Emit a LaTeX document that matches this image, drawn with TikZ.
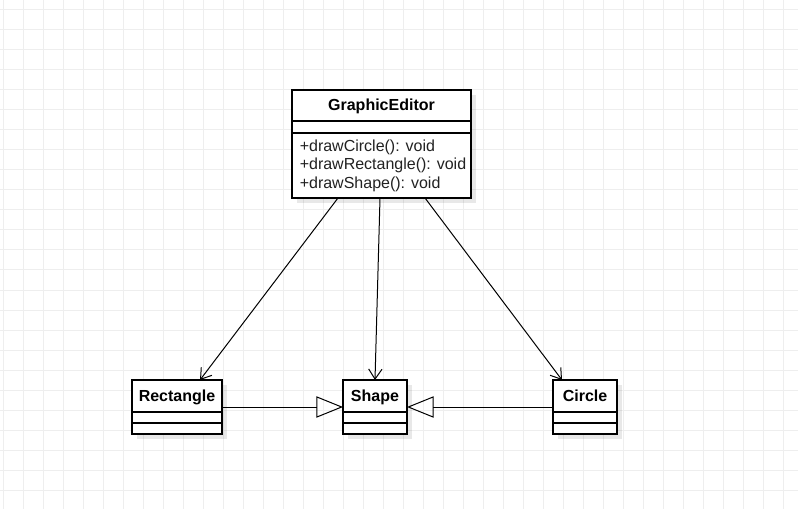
\documentclass[tikz,border=0pt]{standalone}
\usepackage{fontspec}
\setmainfont{Liberation Sans}
\usepackage{tikz}
\usetikzlibrary{arrows.meta,calc,fit,shadows}
\definecolor{gridgray}{HTML}{EEEEEE}
\definecolor{ink}{HTML}{222222}
\newcommand\umlfont{\fontsize{12pt}{13.9pt}\selectfont}

\begin{document}
\begin{tikzpicture}[x=0.75pt,y=-0.75pt,font=\umlfont,
    gridline/.style={gridgray,line width=0.75pt},
    classbox/.style={draw=black,line width=1pt,fill=white,inner sep=0pt,outer sep=0pt,
      drop shadow={shadow xshift=3.5pt,shadow yshift=-3.5pt,fill=black,opacity=0.09}},
    sepline/.style={black,line width=1pt},
    classname/.style={font=\umlfont\bfseries,anchor=base,inner sep=0pt},
    uses/.style={-{Straight Barb[length=7.5pt,width=10pt]},line width=0.75pt},
    inherits/.style={-{Triangle[open,length=20pt,width=16pt]},line width=0.75pt}]
  \useasboundingbox (0,0) rectangle (798,509);
  \fill[white] (0,0) rectangle (798,509);
  \foreach \gx in {3,23,...,783} \draw[gridline] (\gx,0) -- (\gx,509);
  \foreach \gy in {10,30,...,490} \draw[gridline] (0,\gy) -- (798,\gy);

  \node[classbox,fit={(292,90) (471,198)}] (editor) {};
  \node[classname] (editortitle) at ($(editor.north)+(0,21)$) {GraphicEditor};
  \draw[sepline] ($(editor.north west)+(0,31)$) -- ($(editor.north east)+(0,31)$);
  \draw[sepline] ($(editor.north west)+(0,43)$) -- ($(editor.north east)+(0,43)$);
  \node[anchor=west,align=left,inner sep=0pt,text=ink] (methods) at ($(editor.north west)+(7.5,75.5)$)
    {+drawCircle(): void\\+drawRectangle(): void\\+drawShape(): void};

  \foreach \xa/\xb/\cname/\cid in {132/222/Rectangle/rect,343/407/Shape/shape,553/617/Circle/circ}{
    \node[classbox,fit={(\xa,380) (\xb,434)}] (\cid) {};
    \node[classname] (\cid title) at ($(\cid.north)+(0,21)$) {\cname};
    \draw[sepline] ($(\cid.north west)+(0,32)$) -- ($(\cid.north east)+(0,32)$);
    \draw[sepline] ($(\cid.north west)+(0,43)$) -- ($(\cid.north east)+(0,43)$);
  }

  \draw[uses] ($(editor.south)+(-43.5,0)$) -- ($(rect.north)+(23,0)$);
  \draw[uses] ($(editor.south)+(-1.5,0)$) -- (shape.north);
  \draw[uses] ($(editor.south)+(43.5,0)$) -- ($(circ.north)+(-23,0)$);
  \draw[inherits] (rect) -- (shape);
  \draw[inherits] (circ) -- (shape);
\end{tikzpicture}
\end{document}
